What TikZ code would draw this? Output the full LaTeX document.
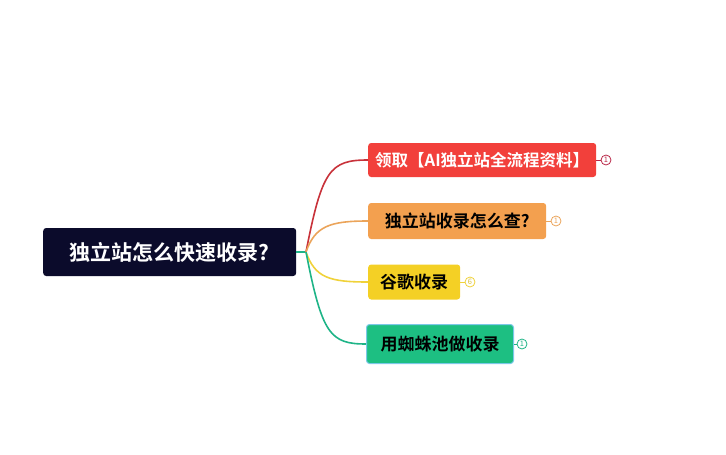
\documentclass[tikz,border=0pt]{standalone}
\usepackage{fontspec}
\setmainfont{Noto Sans CJK SC}[BoldFont={Noto Sans CJK SC Bold}]
\usetikzlibrary{calc}

\definecolor{rootbg}{HTML}{0B0B2B}
\definecolor{redbg}{HTML}{F2403B}
\definecolor{orangebg}{HTML}{F3A04F}
\definecolor{yellowbg}{HTML}{F4D025}
\definecolor{greenbg}{HTML}{1DBF82}
\definecolor{redln}{HTML}{C8323A}
\definecolor{orangeln}{HTML}{EBA45A}
\definecolor{yellowln}{HTML}{F0D23A}
\definecolor{greenln}{HTML}{1EB487}
\definecolor{selln}{HTML}{7CC8E8}

\tikzset{
  topic/.style={rounded corners=3pt,inner sep=0pt,anchor=west,font=\bfseries\fontsize{17}{19}\selectfont},
  badge/.style={circle,draw,line width=0.8pt,fill=white,inner sep=0pt,minimum size=10pt,font=\fontsize{7.5}{8}\selectfont},
  branch/.style={line width=1.6pt}
}

\begin{document}
\begin{tikzpicture}[x=1pt,y=-1pt]
  \useasboundingbox (0,0) rectangle (726,455);
  % central topic
  \node[topic,fill=rootbg,text=white,minimum width=253pt,minimum height=48pt,
        font=\bfseries\fontsize{21}{23}\selectfont] (root) at (43,252) {独立站怎么快速收录?};
  \coordinate (hub) at (306,252);
  % subtopics
  \node[topic,fill=redbg,text=white,minimum width=228pt,minimum height=34pt,
        font=\bfseries\fontsize{16.5}{18}\selectfont] (c1) at (368,160) {领取【AI独立站全流程资料】};
  \node[topic,fill=orangebg,minimum width=178pt,minimum height=36pt] (c2) at (368,221) {独立站收录怎么查?};
  \node[topic,fill=yellowbg,minimum width=92pt,minimum height=35pt] (c3) at (368,282) {谷歌收录};
  \node[topic,fill=greenbg,draw=selln,line width=1pt,minimum width=147pt,minimum height=39pt] (c4) at (366,344) {用蜘蛛池做收录};
  % branches
  \draw[branch,greenln] (root.east) -- (hub);
  \draw[branch,redln] (hub) .. controls (322,170) and (330,160) .. (c1.west);
  \draw[branch,orangeln] (hub) .. controls (315,226) and (330,221) .. (c2.west);
  \draw[branch,yellowln] (hub) .. controls (315,278) and (330,282) .. (c3.west);
  \draw[branch,greenln] (hub) .. controls (322,334) and (330,344) .. (c4.west);
  % badges
  \node[badge,draw=redln!80!violet,text=redln!80!violet] (b1) at (606,160) {1};
  \node[badge,draw=orangeln,text=orangeln] (b2) at (556,221) {1};
  \node[badge,draw=yellowln,text=yellowln!90!black] (b3) at (470,282) {6};
  \node[badge,draw=greenln,text=greenln] (b4) at (522,344) {1};
  \draw[redln!80!violet,line width=0.8pt] (c1.east) -- (b1);
  \draw[orangeln,line width=0.8pt] (c2.east) -- (b2);
  \draw[yellowln,line width=0.8pt] (c3.east) -- (b3);
  \draw[greenln,line width=0.8pt] (c4.east) -- (b4);
\end{tikzpicture}
\end{document}
